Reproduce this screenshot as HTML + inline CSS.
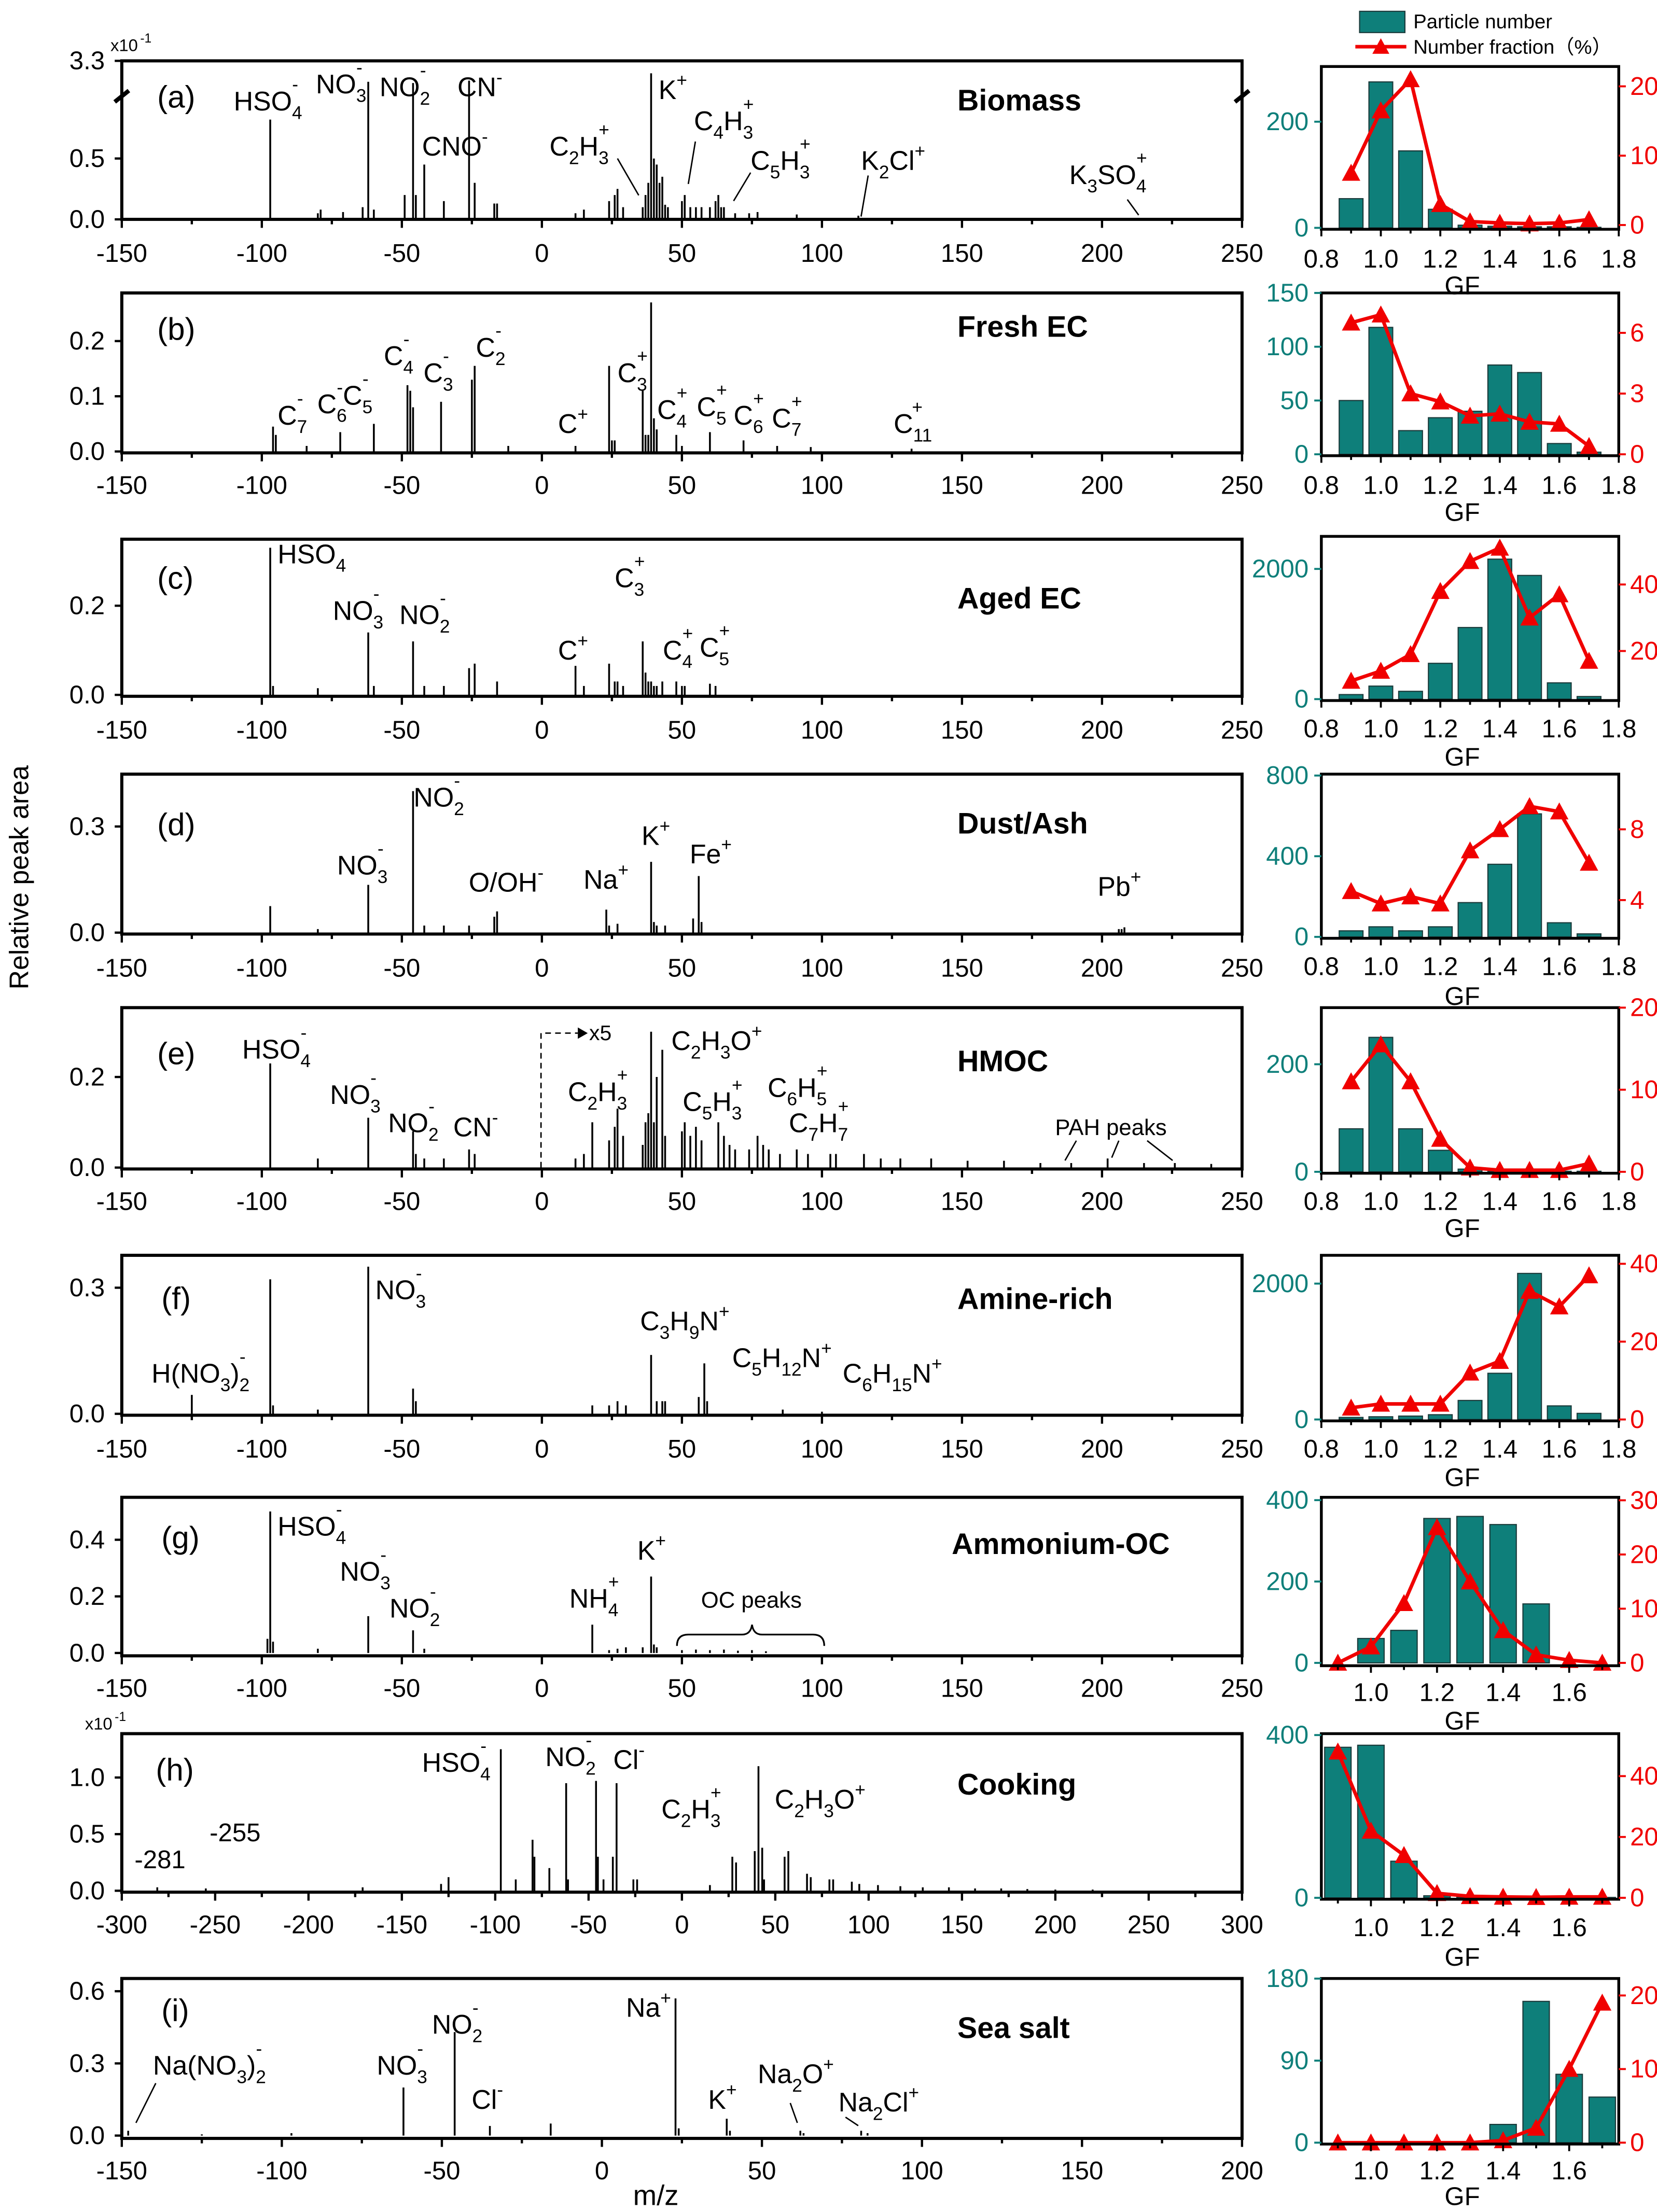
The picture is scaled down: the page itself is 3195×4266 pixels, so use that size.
<!DOCTYPE html>
<html><head><meta charset="utf-8"><style>
html,body{margin:0;padding:0;background:#fff;}
svg{display:block;font-family:"Liberation Sans",Arial,sans-serif;}
</style></head><body>
<svg id="fig" width="3195" height="4266" viewBox="0 0 1170 1563" preserveAspectRatio="none" xmlns="http://www.w3.org/2000/svg"></svg>
<script>
// ---------- DATA ----------
const gfBins=[0.9,1.0,1.1,1.2,1.3,1.4,1.5,1.6,1.7];
const peaksA=[[-97,0.82],[-80,0.05],[-79,0.08],[-71,0.06],[-64,0.1],[-62,1.13],[-60,0.08],[-49,0.2],[-46,1.12],[-45,0.2],[-42,0.45],[-35,0.15],[-26,1.14],[-24,0.3],[-17,0.13],[-16,0.13],[12,0.05],[15,0.08],[24,0.15],[26,0.2],[27,0.25],[29,0.1],[36,0.1],[37,0.2],[38,0.3],[39,1.3],[40,0.5],[41,0.45],[42,0.3],[43,0.35],[44,0.12],[45,0.1],[50,0.15],[51,0.2],[53,0.1],[55,0.1],[57,0.1],[60,0.1],[62,0.15],[63,0.2],[64,0.1],[65,0.1],[69,0.05],[74,0.05],[77,0.06],[91,0.04],[113,0.03]];
const peaksB=[[-96,0.045],[-95,0.03],[-84,0.01],[-72,0.035],[-60,0.05],[-48,0.12],[-47,0.11],[-46,0.08],[-36,0.09],[-25,0.13],[-24,0.155],[-12,0.01],[12,0.01],[24,0.155],[25,0.02],[26,0.02],[36,0.11],[37,0.03],[38,0.03],[39,0.27],[40,0.06],[41,0.04],[48,0.03],[50,0.01],[60,0.035],[72,0.02],[84,0.01],[96,0.008],[132,0.005]];
const peaksC=[[-97,0.33],[-96,0.02],[-80,0.015],[-62,0.14],[-60,0.02],[-46,0.12],[-42,0.02],[-35,0.02],[-26,0.06],[-24,0.07],[-16,0.03],[12,0.065],[15,0.02],[24,0.07],[26,0.03],[27,0.03],[29,0.02],[36,0.12],[37,0.05],[38,0.03],[39,0.03],[40,0.02],[41,0.02],[43,0.03],[48,0.03],[50,0.02],[51,0.02],[60,0.025],[62,0.02]];
const peaksD=[[-97,0.075],[-80,0.01],[-62,0.135],[-46,0.4],[-42,0.02],[-35,0.02],[-26,0.02],[-17,0.045],[-16,0.06],[23,0.065],[24,0.02],[27,0.025],[39,0.2],[40,0.03],[41,0.02],[44,0.02],[54,0.04],[56,0.16],[57,0.03],[206,0.01],[207,0.01],[208,0.015]];
const peaksE=[[-97,0.23],[-80,0.02],[-62,0.11],[-46,0.08],[-45,0.03],[-42,0.02],[-35,0.02],[-26,0.04],[-24,0.03],[12,0.02],[15,0.03],[18,0.1],[24,0.06],[26,0.09],[27,0.13],[29,0.07],[36,0.05],[37,0.1],[38,0.12],[39,0.3],[40,0.1],[41,0.2],[43,0.26],[44,0.07],[50,0.08],[51,0.1],[53,0.07],[55,0.09],[57,0.06],[63,0.1],[65,0.07],[67,0.05],[69,0.04],[74,0.04],[77,0.07],[79,0.05],[81,0.04],[85,0.03],[91,0.04],[95,0.03],[103,0.03],[105,0.03],[115,0.03],[121,0.02],[128,0.02],[139,0.02],[152,0.015],[165,0.015],[178,0.01],[189,0.01],[202,0.02],[215,0.01],[226,0.01],[239,0.008]];
const peaksF=[[-125,0.045],[-97,0.32],[-96,0.02],[-80,0.01],[-62,0.35],[-46,0.06],[-45,0.03],[18,0.02],[24,0.02],[27,0.03],[30,0.02],[39,0.14],[41,0.03],[43,0.03],[44,0.03],[56,0.04],[58,0.12],[59,0.03],[86,0.01],[100,0.005]];
const peaksG=[[-98,0.05],[-97,0.5],[-96,0.04],[-80,0.015],[-62,0.13],[-46,0.08],[-42,0.015],[18,0.1],[24,0.01],[27,0.015],[30,0.02],[36,0.02],[39,0.27],[40,0.03],[41,0.02],[50,0.01],[55,0.012],[60,0.01],[65,0.012],[70,0.008],[75,0.01],[80,0.006]];
const peaksH=[[-281,0.03],[-255,0.02],[-171,0.03],[-129,0.06],[-125,0.12],[-97,1.25],[-89,0.1],[-80,0.45],[-79,0.3],[-71,0.2],[-62,0.95],[-61,0.1],[-46,0.97],[-45,0.3],[-42,0.1],[-37,0.3],[-35,0.95],[-26,0.1],[-24,0.1],[15,0.05],[27,0.3],[29,0.25],[39,0.35],[41,1.1],[43,0.38],[44,0.1],[55,0.3],[57,0.35],[67,0.15],[69,0.12],[79,0.1],[81,0.1],[91,0.08],[95,0.06],[105,0.05],[117,0.04],[129,0.03],[143,0.03],[157,0.02],[171,0.02],[185,0.015],[200,0.01],[220,0.01]];
const peaksI=[[-148,0.02],[-125,0.005],[-97,0.01],[-62,0.2],[-46,0.43],[-35,0.04],[-16,0.05],[23,0.57],[24,0.03],[39,0.07],[40,0.02],[62,0.02],[63,0.01],[81,0.02],[83,0.01]];
const barsA=[55,275,145,35,5,3,2,2,1];  const fracA=[7.5,16.5,21,3,0.5,0.3,0.2,0.3,0.8];
const barsB=[50,118,22,34,40,83,76,10,2];  const fracB=[6.5,6.9,3.0,2.6,1.9,2.0,1.6,1.5,0.4];
const barsC=[70,200,120,550,1100,2150,1900,250,40]; const fracC=[11,14,19,38,47,51,30,37,17];
const barsD=[30,50,30,50,170,360,610,70,15]; const fracD=[4.5,3.8,4.2,3.8,6.8,8.0,9.3,9.0,6.1];
const barsE=[80,250,80,40,5,2,2,1,1]; const fracE=[11,15.5,11,4,0.5,0.2,0.2,0.2,1];
const barsF=[30,40,50,70,280,680,2150,200,90]; const fracF=[3,4,4,4,12,15,33,29,37];
const barsG=[0,60,80,355,360,340,145,0,0]; const fracG=[0,3,11,25,15,6,1.5,0.5,0];
const barsH=[370,375,90,5,2,1,1,1,1]; const fracH=[48,22,14,1.5,0.5,0.3,0.2,0.3,0.3];
const barsI=[0,0,0,0,0,20,155,75,50]; const fracI=[0,0,0,0,0,0.3,2,10,19];

// ---------- DRAW ----------
const NS="http://www.w3.org/2000/svg";
const svg=document.getElementById('fig');
function el(tag,attrs,parent){const e=document.createElementNS(NS,tag);for(const k in attrs)e.setAttribute(k,attrs[k]);(parent||svg).appendChild(e);return e;}
function txt(x,y,s,opt,parent){
  opt=opt||{};
  const t=el('text',{x:x,y:y,'font-size':opt.size||19,fill:opt.fill||'#000','text-anchor':opt.anchor||'start','font-weight':opt.weight||'normal'},parent);
  const re=/\{([_^])([^}]*)\}/g;let last=0,m,prevSub=null;
  while((m=re.exec(s))){
    if(m.index>last){const ts=el('tspan',{},t);ts.textContent=s.slice(last,m.index);prevSub=null;}
    const fs=(opt.size||19)*0.68;
    const a={'font-size':fs};
    if(m[1]=='_'){a.dy=6;}else{a.dy=-9;}
    if(m[1]=='^'&&prevSub){a.dx=-prevSub.length*fs*0.55;a.dy=-14;}
    const ts=el('tspan',a,t);ts.textContent=m[2];
    const back=el('tspan',{dy:(m[1]=='_'?-6:(a.dx!==undefined?8:9)),'font-size':1},t);back.textContent='\u200b';
    if(m[1]=='^'&&prevSub){back.setAttribute('dy',8);}
    prevSub=(m[1]=='_')?m[2]:null;
    last=re.lastIndex;
  }
  if(last<s.length){const ts=el('tspan',{},t);ts.textContent=s.slice(last);}
  return t;
}
function line(x1,y1,x2,y2,w,c,parent){return el('line',{x1:x1,y1:y1,x2:x2,y2:y2,stroke:c||'#000','stroke-width':w||1},parent);}

const L=86,R=877;
const spectra=[
 {id:'a',top:43,bot:155,mn:-150,mx:250,y0:155,k:86,yt:[[0,'0.0'],[0.5,'0.5']],peaks:peaksA,tly:185,cap:1.15},
 {id:'b',top:207,bot:320,mn:-150,mx:250,y0:319,k:390,yt:[[0,'0.0'],[0.1,'0.1'],[0.2,'0.2']],peaks:peaksB,tly:349},
 {id:'c',top:381,bot:492,mn:-150,mx:250,y0:491,k:315,yt:[[0,'0.0'],[0.2,'0.2']],peaks:peaksC,tly:522},
 {id:'d',top:547,bot:660,mn:-150,mx:250,y0:659,k:250,yt:[[0,'0.0'],[0.3,'0.3']],peaks:peaksD,tly:690},
 {id:'e',top:712,bot:826,mn:-150,mx:250,y0:825,k:320,yt:[[0,'0.0'],[0.2,'0.2']],peaks:peaksE,tly:855},
 {id:'f',top:887,bot:1000,mn:-150,mx:250,y0:999,k:297,yt:[[0,'0.0'],[0.3,'0.3']],peaks:peaksF,tly:1030},
 {id:'g',top:1058,bot:1170,mn:-150,mx:250,y0:1168,k:200,yt:[[0,'0.0'],[0.2,'0.2'],[0.4,'0.4']],peaks:peaksG,tly:1199},
 {id:'h',top:1225,bot:1337,mn:-300,mx:300,y0:1336,k:80,yt:[[0,'0.0'],[0.5,'0.5'],[1.0,'1.0']],peaks:peaksH,tly:1366,step:50},
 {id:'i',top:1398,bot:1511,mn:-150,mx:200,y0:1509,k:170,yt:[[0,'0.0'],[0.3,'0.3'],[0.6,'0.6']],peaks:peaksI,tly:1540},
];
spectra.forEach(p=>{
  const g=el('g',{});
  
  
  const xs=v=>L+(v-p.mn)/(p.mx-p.mn)*(R-L);
  const ys=v=>p.y0-v*p.k;
  p.peaks.forEach(([m,h])=>{
    let yy=ys(p.cap&&h>p.cap?p.cap+0.05:h); if(yy<p.top+2) yy=p.top+2;
    const ln=line(xs(m),p.y0,xs(m),yy,1.3,'#000',g);
    
    
  });
  const fr=el('rect',{x:L,y:p.top,width:R-L,height:p.bot-p.top,fill:'none',stroke:'#000','stroke-width':2.2},g);
  
  
  const step=p.step||50;
  for(let v=p.mn;v<=p.mx;v+=step/2){
    const maj=((v-p.mn)%step)==0;
    line(xs(v),p.bot,xs(v),p.bot+(maj?6:3.5),1.6,'#000',g);
    if(maj){const t=txt(xs(v),p.tly,String(v),{anchor:'middle',size:18},g);
      }
  }
  p.yt.forEach(([v,s])=>{line(L-5,ys(v),L,ys(v),1.6,'#000',g);
    const t=txt(L-12,ys(v)+6,s,{anchor:'end',size:18},g);
    });
});
// panel (a) extra
line(81,43,86,43,1.6);txt(74,49,'3.3',{anchor:'end',size:18});
txt(78,36,'x10',{size:12});txt(99,30,'-1',{size:9});
txt(60,1222,'x10',{size:12});txt(81,1216,'-1',{size:9});
line(81,72,91,64,3);line(872,72,882,64,3);

// labels
const labs=[
 [111,76,'(a)',22],[165,78,'HSO{_4}{^-}'],[223,66,'NO{_3}{^-}'],[268,68,'NO{_2}{^-}'],[323,68,'CN{^-}'],[298,110,'CNO{^-}'],[388,110,'C{_2}H{_3}{^+}'],[465,70,'K{^+}'],[490,92,'C{_4}H{_3}{^+}'],[530,120,'C{_5}H{_3}{^+}'],[608,120,'K{_2}Cl{^+}'],[755,130,'K{_3}SO{_4}{^+}'],
 [111,240,'(b)',22],[196,300,'C{_7}{^-}'],[224,292,'C{_6}{^-}C{_5}{^-}'],[271,258,'C{_4}{^-}'],[299,270,'C{_3}{^-}'],[336,252,'C{_2}{^-}'],[394,306,'C{^+}'],[436,270,'C{_3}{^+}'],[464,296,'C{_4}{^+}'],[492,294,'C{_5}{^+}'],[518,300,'C{_6}{^+}'],[545,302,'C{_7}{^+}'],[631,306,'C{_11}{^+}'],
 [111,416,'(c)',22],[196,398,'HSO{_4}{^-}'],[235,438,'NO{_3}{^-}'],[282,441,'NO{_2}{^-}'],[394,466,'C{^+}'],[434,415,'C{_3}{^+}'],[468,466,'C{_4}{^+}'],[494,464,'C{_5}{^+}'],
 [111,590,'(d)',22],[292,570,'NO{_2}{^-}'],[238,618,'NO{_3}{^-}'],[331,630,'O/OH{^-}'],[412,628,'Na{^+}'],[453,597,'K{^+}'],[487,610,'Fe{^+}'],[775,633,'Pb{^+}'],
 [111,752,'(e)',22],[171,748,'HSO{_4}{^-}'],[233,780,'NO{_3}{^-}'],[274,800,'NO{_2}{^-}'],[320,803,'CN{^-}'],[474,742,'C{_2}H{_3}O{^+}'],[401,778,'C{_2}H{_3}{^+}'],[482,785,'C{_5}H{_3}{^+}'],[542,775,'C{_6}H{_5}{^+}'],[557,800,'C{_7}H{_7}{^+}'],[745,802,'PAH peaks',16],[416,735,'x5',15],
 [114,925,'(f)',22],[107,977,'H(NO{_3}){_2}{^-}'],[265,918,'NO{_3}{^-}'],[452,940,'C{_3}H{_9}N{^+}'],[517,966,'C{_5}H{_12}N{^+}'],[595,977,'C{_6}H{_15}N{^+}'],
 [114,1094,'(g)',22],[196,1085,'HSO{_4}{^-}'],[240,1117,'NO{_3}{^-}'],[275,1143,'NO{_2}{^-}'],[402,1136,'NH{_4}{^+}'],[450,1102,'K{^+}'],[495,1136,'OC peaks',16],
 [110,1258,'(h)',22],[95,1320,'-281',18],[148,1301,'-255',18],[298,1252,'HSO{_4}{^-}'],[385,1248,'NO{_2}{^-}'],[433,1250,'Cl{^-}'],[467,1285,'C{_2}H{_3}{^+}'],[547,1278,'C{_2}H{_3}O{^+}'],
 [114,1428,'(i)',22],[108,1466,'Na(NO{_3}){_2}{^-}'],[266,1466,'NO{_3}{^-}'],[305,1437,'NO{_2}{^-}'],[333,1490,'Cl{^-}'],[442,1425,'Na{^+}'],[500,1490,'K{^+}'],[535,1472,'Na{_2}O{^+}'],[592,1492,'Na{_2}Cl{^+}'],
];
labs.forEach(([x,y,s,sz])=>{const t=txt(x,y,s,{size:sz||19});
  });
[[676,78,'Biomass'],[676,238,'Fresh EC'],[676,430,'Aged EC'],[676,589,'Dust/Ash'],[676,757,'HMOC'],[676,925,'Amine-rich'],[672,1098,'Ammonium-OC'],[676,1268,'Cooking'],[676,1440,'Sea salt']].forEach(([x,y,s])=>{
  const t=txt(x,y,s,{size:21,weight:'bold'});});
// leader lines
[[436,112,451,138],[491,100,486,130],[530,122,518,142],[613,124,608,153],[796,141,804,152],[110,1472,96,1500],[558,1486,563,1500],[597,1496,606,1502],[760,806,752,820],[790,806,785,818],[810,806,828,820]].forEach(a=>line(...a,1));
// x5 dashed arrow
el('path',{d:'M382,825 L382,730 L408,730',fill:'none',stroke:'#000','stroke-width':1,'stroke-dasharray':'4,3'});
el('path',{d:'M408,726 L415,730 L408,734 Z',fill:'#000'});
// OC brace
el('path',{d:'M478,1163 Q478,1155 486,1155 L524,1155 Q530,1155 531,1148 Q532,1155 538,1155 L574,1155 Q582,1155 582,1163',fill:'none',stroke:'#000','stroke-width':1.2});
// axis titles
const mz=txt(447,1558,'m/z',{size:20});
const yt=txt(0,0,'Relative peak area',{size:19,anchor:'middle'});yt.setAttribute('transform','translate(20,620) rotate(-90)');


// GF panels
const RL=933,RR=1143,TEAL='#0e7f7a',RED='#f00000';
const gfPanels=[
 {id:'a',top:47,bot:162,lo:0.8,hi:1.8,ly0:161,lk:0.375,lt:[0,200],ry0:159,rk:4.9,rt:[0,10,20],bars:barsA,frac:fracA,tly:189,gy:208},
 {id:'b',top:207,bot:322,lo:0.8,hi:1.8,ly0:321,lk:0.76,lt:[0,50,100,150],ry0:321,rk:14.3,rt:[0,3,6],bars:barsB,frac:fracB,tly:349,gy:368},
 {id:'c',top:379,bot:495,lo:0.8,hi:1.8,ly0:494,lk:0.046,lt:[0,2000],ry0:507,rk:2.35,rt:[20,40],bars:barsC,frac:fracC,tly:521,gy:541},
 {id:'d',top:547,bot:663,lo:0.8,hi:1.8,ly0:662,lk:0.1425,lt:[0,400,800],ry0:686,rk:12.5,rt:[4,8],bars:barsD,frac:fracD,tly:689,gy:710},
 {id:'e',top:712,bot:829,lo:0.8,hi:1.8,ly0:828,lk:0.38,lt:[0,200],ry0:828,rk:5.8,rt:[0,10,20],bars:barsE,frac:fracE,tly:855,gy:874},
 {id:'f',top:887,bot:1004,lo:0.8,hi:1.8,ly0:1003,lk:0.048,lt:[0,2000],ry0:1003,rk:2.75,rt:[0,20,40],bars:barsF,frac:fracF,tly:1030,gy:1050},
 {id:'g',top:1058,bot:1177,lo:0.85,hi:1.75,ly0:1175,lk:0.2875,lt:[0,200,400],ry0:1175,rk:3.83,rt:[0,10,20,30],bars:barsG,frac:fracG,tly:1202,gy:1222},
 {id:'h',top:1225,bot:1342,lo:0.85,hi:1.75,ly0:1341,lk:0.2875,lt:[0,400],ry0:1341,rk:2.15,rt:[0,20,40],bars:barsH,frac:fracH,tly:1368,gy:1389},
 {id:'i',top:1398,bot:1515,lo:0.85,hi:1.75,ly0:1514,lk:0.644,lt:[0,90,180],ry0:1514,rk:5.2,rt:[0,10,20],bars:barsI,frac:fracI,tly:1540,gy:1558},
];
gfPanels.forEach(p=>{
  const g=el('g',{});
  
  
  const xs=v=>RL+(v-p.lo)/(p.hi-p.lo)*(RR-RL);
  const yl=v=>p.ly0-v*p.lk, yr=v=>p.ry0-v*p.rk;
  const bw=0.08/(p.hi-p.lo)*(RR-RL);
  p.bars.forEach((v,i)=>{ if(v<=0)return; let y=Math.max(yl(v),p.top);
    const b=el('rect',{x:xs(gfBins[i])-bw/2,y:y,width:bw,height:p.ly0-y,fill:TEAL,stroke:'#1a3a3a','stroke-width':0.8},g);
    
    });
  const pts=p.frac.map((v,i)=>[xs(gfBins[i]),Math.min(yr(v),p.bot)]);
  const pl=el('polyline',{points:pts.map(q=>q.join(',')).join(' '),fill:'none',stroke:RED,'stroke-width':2.5},g);
  
  
  pts.forEach(([x,y])=>{const tr=el('path',{d:`M${x-6.5},${y+5.5} L${x},${y-6.5} L${x+6.5},${y+5.5} Z`,fill:RED},g);
    
    });
  el('rect',{x:RL,y:p.top,width:RR-RL,height:p.bot-p.top,fill:'none',stroke:'#000','stroke-width':2},g);
  const ticks=p.lo<0.85?[0.8,1.0,1.2,1.4,1.6,1.8]:[1.0,1.2,1.4,1.6];
  for(let v=Math.ceil(p.lo*10)/10;v<=p.hi+1e-9;v+=0.1){const maj=ticks.some(t=>Math.abs(t-v)<1e-6);
    line(xs(v),p.bot,xs(v),p.bot+(maj?5:3),1.4,'#000',g);}
  ticks.forEach(v=>{const t=txt(xs(v),p.tly,v.toFixed(1),{anchor:'middle',size:18},g);
    });
  p.lt.forEach(v=>{line(RL-5,yl(v),RL,yl(v),1.4,TEAL,g);txt(RL-9,yl(v)+6,String(v),{anchor:'end',size:18,fill:TEAL},g);});
  p.rt.forEach(v=>{line(RR,yr(v),RR+5,yr(v),1.4,RED,g);txt(RR+8,yr(v)+6,String(v),{size:18,fill:RED},g);});
  const gl=txt(1020,p.gy,'GF',{size:18},g);
});
// legend
const lg=el('g',{});


el('rect',{x:960,y:8,width:32,height:15,fill:TEAL,stroke:'#1a3a3a','stroke-width':0.8},lg);
txt(998,20,'Particle number',{size:14},lg);
line(957,33,993,33,2.5,RED,lg);
el('path',{d:'M969,38 L975,27 L981,38 Z',fill:RED},lg);
txt(998,38,'Number fraction（%）',{size:14},lg);
</script>
</body></html>
